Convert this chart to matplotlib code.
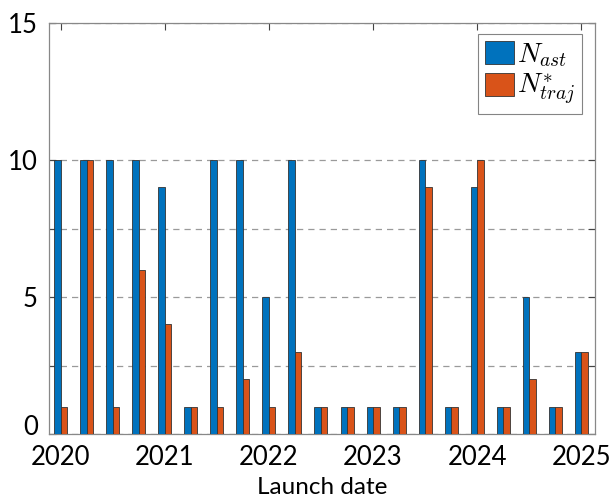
import matplotlib
matplotlib.use("Agg")
import matplotlib.pyplot as plt
import matplotlib.transforms as mtransforms
import numpy as np

launch = [2020.0, 2020.25, 2020.5, 2020.75, 2021.0, 2021.25, 2021.5, 2021.75,
          2022.0, 2022.25, 2022.5, 2022.75, 2023.0, 2023.25, 2023.5, 2023.75,
          2024.0, 2024.25, 2024.5, 2024.75, 2025.0]
n_ast = [10, 10, 10, 10, 9, 1, 10, 10, 5, 10, 1, 1, 1, 1, 10, 1, 9, 1, 5, 1, 3]
n_traj = [1, 10, 1, 6, 4, 1, 1, 2, 1, 3, 1, 1, 1, 1, 9, 1, 10, 1, 2, 1, 3]
year_ticks = [2020, 2021, 2022, 2023, 2024, 2025]
y_ticks = [0, 2.5, 5, 7.5, 10, 15]
y_labels = ["0", "", "5", "", "10", "15"]

plt.rcParams['font.family'] = ['Lato', 'DejaVu Sans']
plt.rcParams['mathtext.fontset'] = 'cm'

fig = plt.figure(figsize=(6.1, 5.0), dpi=100)
ax = fig.add_axes([0.080, 0.132, 0.895, 0.822])

x = np.array(launch)
w = 0.0625
ax.bar(x - w / 2, n_ast, width=w, color='#0072BD', edgecolor='#333333',
       linewidth=0.6, label='$N_{ast}$', zorder=3)
ax.bar(x + w / 2, n_traj, width=w, color='#D95319', edgecolor='#333333',
       linewidth=0.6, label='$N^{*}_{traj}$', zorder=3)

ax.set_xlim(2019.885, 2025.13)
ax.set_ylim(0, 15)
ax.set_xticks(year_ticks)
ax.set_xticklabels([str(t) for t in year_ticks])
ax.set_yticks(y_ticks)
ax.set_yticklabels(y_labels)
ax.yaxis.grid(True, linestyle=(0, (5, 4)), color='#9a9a9a', linewidth=0.9, zorder=0)
ax.tick_params(axis='both', direction='in', top=True, right=True, length=5,
               width=0.8, color='#444444', labelsize=18.5)
ax.tick_params(axis='x', pad=8)
ax.tick_params(axis='y', pad=8)
for s in ax.spines.values():
    s.set_color('#888888')
    s.set_linewidth(0.9)
ax.set_xlabel('Launch date', fontsize=17.5, labelpad=5)

# lift the "0" label slightly, as in the reference
lab0 = ax.get_yticklabels()[0]
lab0.set_transform(lab0.get_transform() + mtransforms.ScaledTranslation(0, 9 / 100, fig.dpi_scale_trans))

leg = ax.legend(loc='upper right', fontsize=20, frameon=True, fancybox=False,
                edgecolor='#666666', handlelength=1.05, handleheight=0.9,
                handletextpad=0.1, borderpad=0.25, labelspacing=0.1,
                borderaxespad=0, bbox_to_anchor=(0.976, 0.973))
leg.get_frame().set_linewidth(0.8)

fig.savefig('out.png', dpi=100)
